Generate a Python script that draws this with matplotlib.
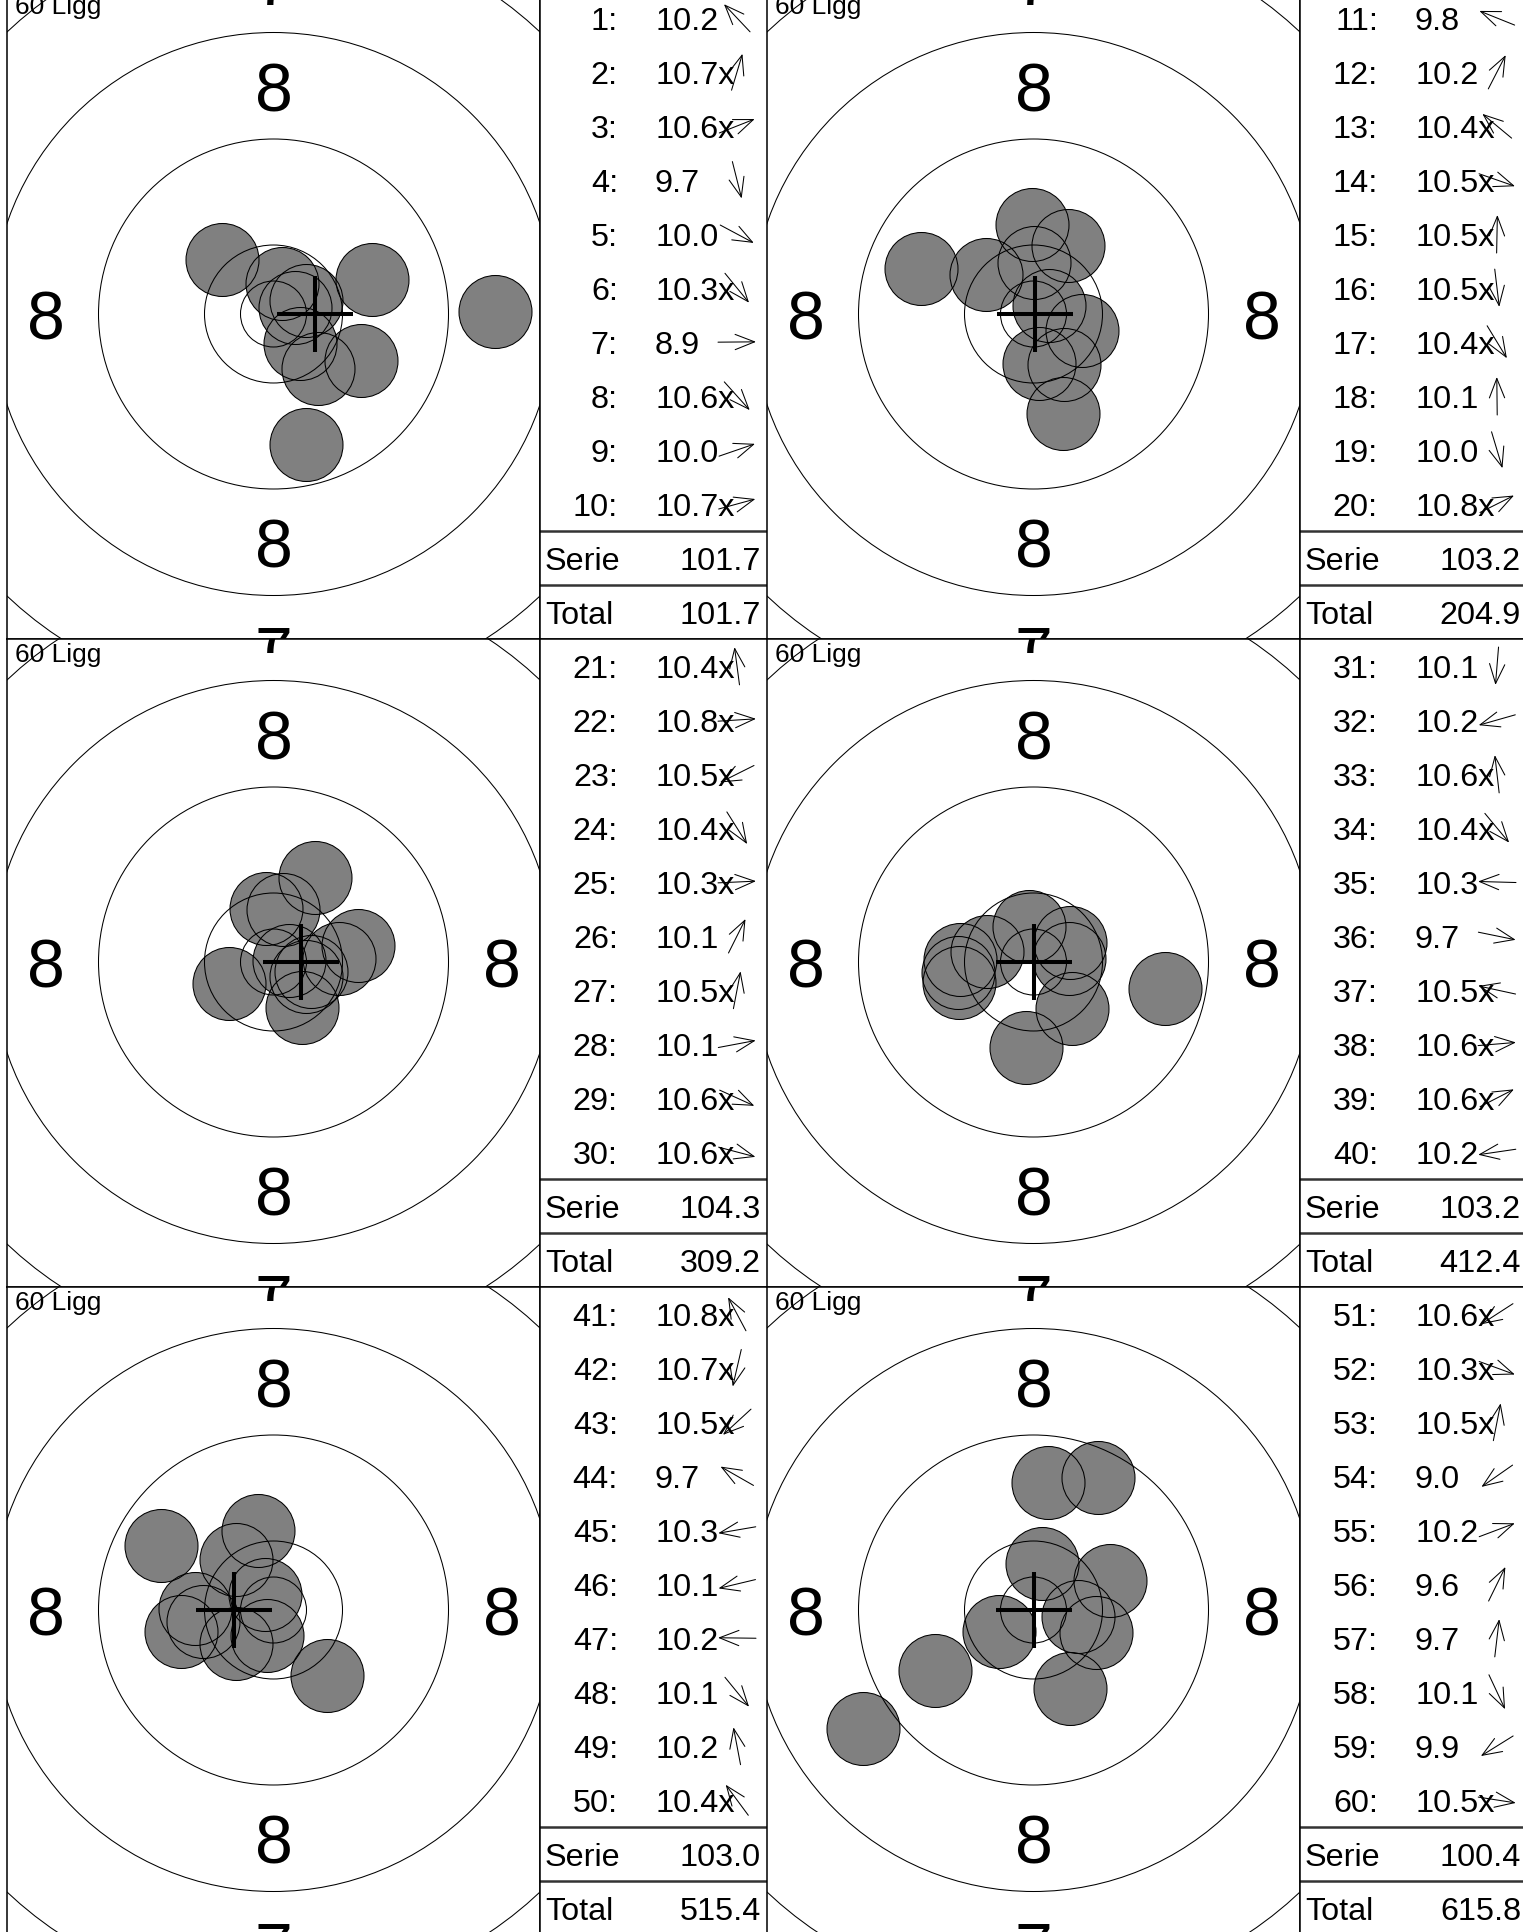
import numpy as np
import matplotlib
matplotlib.use('Agg')
import matplotlib.pyplot as plt
from matplotlib.patches import Circle

plt.rcParams['font.family'] = ['Liberation Sans', 'DejaVu Sans']

# hit positions, target units from the centre (y up), and printed scores
s1_x = [-51, 9, 33, 33, 88, 45, 222, 27, 99, 22]
s1_y = [54, 30, 13, -131, -47, -55, 2, -30, 34, 6]
s1_sc = ['10.2', '10.7x', '10.6x', '9.7', '10.0', '10.3x', '8.9', '10.6x', '10.0', '10.7x']

s2_x = [-112, 35, -47, 49, 1, 6, 31, -1, 30, 16]
s2_y = [45, 68, 39, -17, 51, -50, -51, 89, -100, 8]
s2_sc = ['9.8', '10.2', '10.4x', '10.5x', '10.5x', '10.5x', '10.4x', '10.1', '10.0', '10.8x']

s3_x = [-7, 16, -44, 29, 66, 42, 10, 85, 33, 38]
s3_y = [53, 1, -22, -46, 3, 84, 52, 16, -15, -10]
s3_sc = ['10.4x', '10.8x', '10.5x', '10.4x', '10.3x', '10.1', '10.5x', '10.1', '10.6x', '10.6x']

s4_x = [-7, -74, -4, 39, -73, 132, -46, 36, 37, -75]
s4_y = [-86, -21, 35, -47, 2, -27, 10, 3, 19, -11]
s4_sc = ['10.1', '10.2', '10.6x', '10.4x', '10.3', '9.7', '10.5x', '10.6x', '10.6x', '10.2']

s5_x = [-8, -6, -37, -112, -70, -92, -78, 54, -15, -37]
s5_y = [15, -26, -34, 64, -12, -22, 1, -66, 79, 50]
s5_sc = ['10.8x', '10.7x', '10.5x', '9.7', '10.3', '10.1', '10.2', '10.1', '10.2', '10.4x']

s6_x = [-34, 63, 9, -170, 77, 65, 15, 37, -98, 45]
s6_y = [-22, -23, 46, -119, 29, 132, 127, -79, -61, -7]
s6_sc = ['10.6x', '10.3x', '10.5x', '9.0', '10.2', '9.6', '9.7', '10.1', '9.9', '10.5x']

serie_sums = [101.7, 103.2, 104.3, 103.2, 103.0, 100.4]
group_x = [41, 1, 27, 0, -40, 0]

series = [(s1_x, s1_y, s1_sc), (s2_x, s2_y, s2_sc), (s3_x, s3_y, s3_sc),
          (s4_x, s4_y, s4_sc), (s5_x, s5_y, s5_sc), (s6_x, s6_y, s6_sc)]
totals = np.cumsum(serie_sums)

# target geometry (same units as the hits)
ring_r = [33, 69, 175, 281.5, 388, 494.5]
label_r = {'8': 228, '7': 335}
shot_r = 36.5

# page layout in pixels
W, H = 1523, 1933
PW, PH = 760, 648
TW = 533
X0, Y0 = 7, -8
CX, CY = 266.5, 323
ROW_H = 54
FS = 23.3

fig = plt.figure(figsize=(W / 100, H / 100), dpi=100)


def add_box(x, y, w, h):
    a = fig.add_axes([x / W, 1 - (y + h) / H, w / W, h / H])
    a.set_xticks([])
    a.set_yticks([])
    for sp in a.spines.values():
        sp.set_linewidth(1.1)
    return a


for k, (xs, ys, sc) in enumerate(series):
    row, col = divmod(k, 2)
    left = X0 + col * PW
    top = Y0 + row * PH

    # target
    ax = add_box(left, top, TW, PH)
    ax.set_xlim(-CX, TW - CX)
    ax.set_ylim(-(PH - CY), CY)
    for lab, rad in label_r.items():
        for dx, dy in [(0, 1), (0, -1), (1, 0), (-1, 0)]:
            ax.text(dx * rad, dy * rad, lab, fontsize=49, ha='center',
                    va='center_baseline', clip_on=True, zorder=1)
    for x, y in zip(xs, ys):
        ax.add_patch(Circle((x, y), shot_r, facecolor='#808080',
                            edgecolor='none', zorder=2))
    for rr in ring_r:
        ax.add_patch(Circle((0, 0), rr, fill=False, ec='black', lw=0.75, zorder=3))
    for x, y in zip(xs, ys):
        ax.add_patch(Circle((x, y), shot_r, fill=False, ec='black', lw=0.75, zorder=3))
    gx = group_x[k]
    ax.plot([gx - 38, gx + 38], [0, 0], color='black', lw=2.9,
            solid_capstyle='butt', zorder=4)
    ax.plot([gx, gx], [-38, 38], color='black', lw=2.9,
            solid_capstyle='butt', zorder=4)
    ax.text(-CX + 8, CY - 3, '60 Ligg', fontsize=19, ha='left', va='top', zorder=5)

    # score table
    tb = add_box(left + TW, top, PW - TW, PH)
    tb.spines['right'].set_visible(False)
    tb.set_xlim(0, PW - TW)
    tb.set_ylim(PH, 0)
    for i in range(10):
        yc = (i + 0.5) * ROW_H
        tb.text(78, yc, f'{10 * k + i + 1}:', fontsize=FS, ha='right', va='center_baseline')
        tb.text(115, yc, sc[i], fontsize=FS, ha='left', va='center_baseline')
        ang = np.arctan2(ys[i], xs[i])
        dx, dy = 19 * np.cos(ang), -19 * np.sin(ang)
        tb.annotate('', xy=(197 + dx, yc + dy), xytext=(197 - dx, yc - dy),
                    arrowprops=dict(arrowstyle='->,head_length=1.4,head_width=0.55',
                                    lw=0.75, color='black', shrinkA=0, shrinkB=0,
                                    mutation_scale=10))
    for j in (10, 11):
        tb.axhline(j * ROW_H, color='#333333', lw=1.8)
    tb.text(5, 10.5 * ROW_H, 'Serie', fontsize=FS, ha='left', va='center_baseline')
    tb.text(221, 10.5 * ROW_H, f'{serie_sums[k]:.1f}', fontsize=FS, ha='right',
            va='center_baseline')
    tb.text(5, 11.5 * ROW_H, 'Total', fontsize=FS, ha='left', va='center_baseline')
    tb.text(221, 11.5 * ROW_H, f'{totals[k]:.1f}', fontsize=FS, ha='right',
            va='center_baseline')

fig.savefig('out.png', dpi=100)
